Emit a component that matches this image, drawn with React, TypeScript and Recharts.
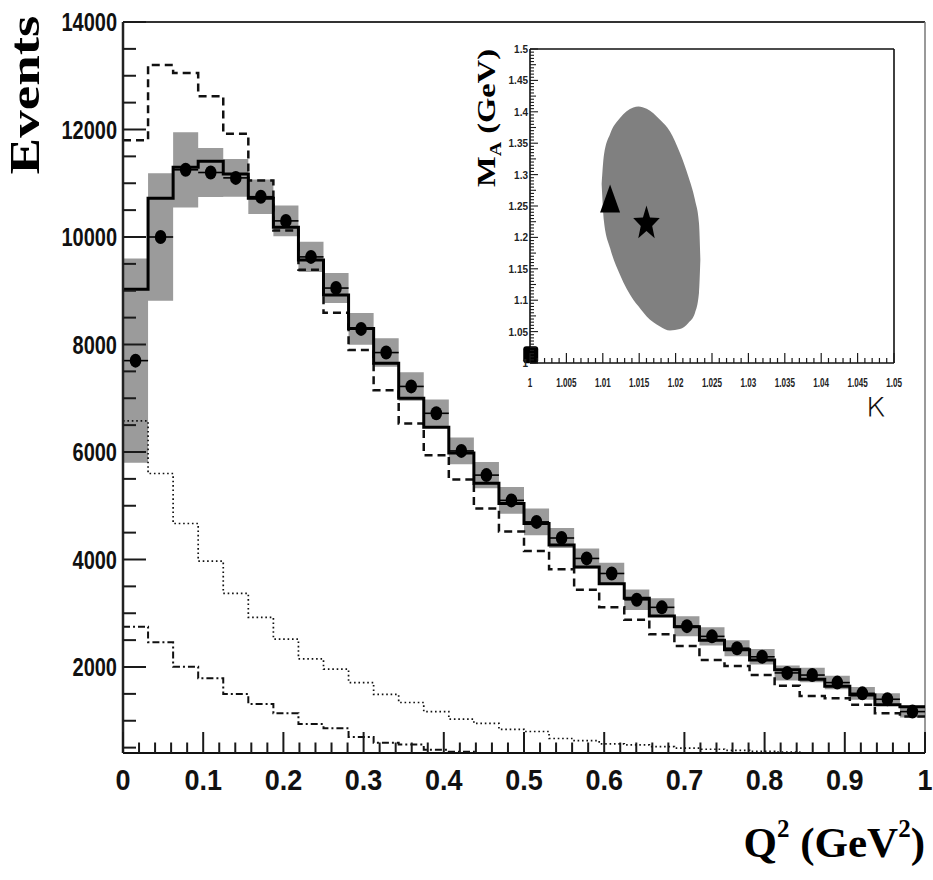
import React from 'react';
import { ComposedChart, Line, Area, Scatter, XAxis, YAxis, ErrorBar, ReferenceLine } from 'recharts';

// ---------- main histogram data (32 bins in Q^2 from 0 to 1) ----------
const NBINS = 32;
const Q2_MAX = 1;

const dataPoints = [7700, 10000, 11250, 11200, 11100, 10750, 10300, 9630, 9050, 8290, 7850, 7220, 6720, 6020, 5570, 5100, 4700, 4400, 4020, 3740, 3250, 3110, 2760, 2570, 2350, 2190, 1890, 1850, 1710, 1510, 1400, 1170];
const dataSysErr = [1900, 1185, 700, 455, 350, 320, 285, 280, 278, 295, 265, 265, 255, 250, 245, 250, 248, 186, 186, 200, 190, 170, 186, 170, 150, 145, 140, 135, 125, 120, 110, 110];
const fitMC = [9030, 10720, 11300, 11410, 11170, 10720, 10180, 9570, 8920, 8300, 7650, 7000, 6460, 5980, 5420, 5040, 4670, 4270, 3860, 3550, 3280, 2950, 2750, 2500, 2320, 2130, 1950, 1770, 1640, 1480, 1300, 1260];
const initialMC = [11800, 13200, 13050, 12620, 11920, 11050, 10120, 9390, 8590, 7900, 7150, 6530, 5940, 5490, 4950, 4520, 4160, 3820, 3435, 3110, 2880, 2610, 2390, 2130, 2020, 1850, 1650, 1460, 1420, 1300, 1140, 1080];
const bkgDotted = [6580, 5600, 4670, 3970, 3370, 2925, 2520, 2150, 1960, 1710, 1490, 1340, 1170, 1030, 950, 840, 800, 670, 630, 570, 550, 520, 490, 470, 450, 430, 415, 400, 390, 380, 370, 360];
const bkgDashDot = [2750, 2460, 2005, 1790, 1500, 1310, 1140, 940, 860, 700, 590, 560, 460, 425, 395, 380, 365, 350, 340, 330, 320, 310, 300, 290, 280, 270, 260, 250, 240, 230, 220, 210];

const xMajorLabels = ['0', '0.1', '0.2', '0.3', '0.4', '0.5', '0.6', '0.7', '0.8', '0.9', '1'];
const yMajorLabels = ['2000', '4000', '6000', '8000', '10000', '12000', '14000'];

// ---------- inset data ----------
const ellipseK = [1.00984, 1.01016, 1.011, 1.01236, 1.01419, 1.0149, 1.01603, 1.01786, 1.01923, 1.0206, 1.02175, 1.02266, 1.02321, 1.0234];
const ellipseLow = [1.285, 1.2255, 1.1831, 1.1406, 1.1008, 1.0902, 1.0742, 1.0583, 1.0519, 1.0541, 1.0637, 1.0796, 1.1115, 1.1645];
const ellipseHigh = [1.285, 1.3317, 1.3646, 1.3901, 1.407, 1.4086, 1.4049, 1.3874, 1.3688, 1.3344, 1.2971, 1.26, 1.2229, 1.1645];
const trianglePoint = [{ k: 1.011, m: 1.262 }];
const starPoint = [{ k: 1.016, m: 1.222 }];
const squarePoint = [{ k: 1.0001, m: 1.013 }];
const kLabels = ['1', '1.005', '1.01', '1.015', '1.02', '1.025', '1.03', '1.035', '1.04', '1.045', '1.05'];
const mLabels = ['1', '1.05', '1.1', '1.15', '1.2', '1.25', '1.3', '1.35', '1.4', '1.45', '1.5'];

// ---------- derived tables ----------
const binWidth = Q2_MAX / NBINS;
const edgeRows = Array.from({ length: NBINS + 1 }, (_, i) => {
  const j = Math.min(i, NBINS - 1);
  return {
    x: i * binWidth,
    fit: fitMC[j],
    init: initialMC[j],
    dotted: bkgDotted[j],
    dd: bkgDashDot[j],
    band: [dataPoints[j] - dataSysErr[j], dataPoints[j] + dataSysErr[j]],
  };
});
const pointRows = dataPoints.map((v, i) => ({ x: (i + 0.5) * binWidth, y: v, xerr: binWidth / 2 }));
const ellipseRows = ellipseK.map((k, i) => ({ k, band: [ellipseLow[i], ellipseHigh[i]] }));

const xTicks = Array.from({ length: 51 }, (_, i) => Number((i * 0.02).toFixed(2)));
const yTicks = Array.from({ length: 28 }, (_, i) => (i + 1) * 500);
const kTicks = Array.from({ length: 51 }, (_, i) => Number((1 + i / 1000).toFixed(3)));
const mTicks = Array.from({ length: 101 }, (_, i) => Number((1 + i / 200).toFixed(3)));

const SANS = 'Liberation Sans, Arial, Helvetica, sans-serif';
const SERIF = 'Liberation Serif, Times New Roman, serif';

// ---------- custom ticks ----------
const XTick = (props: any) => {
  const { x, y, payload } = props;
  const idx = Math.round(payload.value * 50);
  const major = idx % 5 === 0;
  return (
    <g>
      <line x1={x} y1={y} x2={x} y2={y - (major ? 21 : 10.5)} stroke="#1a1a1a" strokeWidth={2} />
      {major && (
        <text transform={`translate(${x},${y + 37}) scale(1,1.08)`} textAnchor="middle" fontFamily={SANS} fontWeight="bold" fontSize={27} fill="#111">
          {xMajorLabels[idx / 5]}
        </text>
      )}
    </g>
  );
};

const YTick = (props: any) => {
  const { x, y, payload } = props;
  const v = payload.value;
  const major = v % 2000 === 0;
  return (
    <g>
      <line x1={x} y1={y} x2={x + (major ? 23 : 13)} y2={y} stroke="#1a1a1a" strokeWidth={2} />
      {major && (
        <text transform={`translate(${x - 6},${y + 9}) scale(1,1.3)`} textAnchor="end" fontFamily={SANS} fontWeight="bold" fontSize={20} fill="#111">
          {yMajorLabels[v / 2000 - 1]}
        </text>
      )}
    </g>
  );
};

const KTick = (props: any) => {
  const { x, y, payload } = props;
  const i = Math.round((payload.value - 1) * 1000);
  const major = i % 5 === 0;
  return (
    <g>
      <line x1={x} y1={y} x2={x} y2={y - (major ? 10 : 5)} stroke="#1a1a1a" strokeWidth={1.2} />
      {major && (
        <text transform={`translate(${x},${y + 23.5}) scale(0.9,1.35)`} textAnchor="middle" fontFamily={SANS} fontWeight="bold" fontSize={9} fill="#222">
          {kLabels[i / 5]}
        </text>
      )}
    </g>
  );
};

const MTick = (props: any) => {
  const { x, y, payload } = props;
  const i = Math.round((payload.value - 1) * 200);
  const major = i % 10 === 0;
  const mid = i % 5 === 0;
  return (
    <g>
      <line x1={x} y1={y} x2={x + (major ? 8 : mid ? 6 : 4)} y2={y} stroke="#1a1a1a" strokeWidth={1.1} />
      {major && (
        <text transform={`translate(${x - 2},${y + 4}) scale(1,1.15)`} textAnchor="end" fontFamily={SANS} fontWeight="bold" fontSize={10} fill="#222">
          {mLabels[i / 10]}
        </text>
      )}
    </g>
  );
};

// ---------- marker shapes ----------
const DataDot = (props: any) => {
  const { cx, cy } = props;
  return <ellipse cx={cx} cy={cy} rx={5.8} ry={7} fill="#000" />;
};
const TriangleShape = (props: any) => {
  const { cx, cy } = props;
  return <path d={`M${cx},${cy - 14} L${cx + 10},${cy + 14} L${cx - 10},${cy + 14} Z`} fill="#000" />;
};
const StarShape = (props: any) => {
  const { cx, cy } = props;
  const pts: string[] = [];
  for (let i = 0; i < 10; i++) {
    const a = -Math.PI / 2 + (i * Math.PI) / 5;
    const rx = i % 2 === 0 ? 14 : 6;
    const ry = i % 2 === 0 ? 18 : 7.5;
    pts.push(`${cx + rx * Math.cos(a)},${cy + ry * Math.sin(a)}`);
  }
  return <polygon points={pts.join(' ')} fill="#000" />;
};
const SquareShape = (props: any) => {
  const { cx, cy } = props;
  return <rect x={cx - 7.5} y={cy - 8.5} width={15} height={17} rx={3} ry={3} fill="#000" />;
};

export default function App() {
  return (
    <div style={{ position: 'absolute', left: 0, top: 0, width: 933, height: 880, background: '#fff' }}>
      <ComposedChart width={933} height={880} data={edgeRows} margin={{ top: 22, right: 8, bottom: 87, left: 63 }}>
        <XAxis
          dataKey="x"
          type="number"
          domain={[0, 1]}
          ticks={xTicks}
          interval={0}
          tickSize={0}
          tickMargin={0}
          tickLine={false}
          tick={XTick}
          height={40}
          allowDataOverflow
          axisLine={{ stroke: '#111', strokeWidth: 2 }}
        />
        <YAxis
          type="number"
          domain={[400, 14000]}
          ticks={yTicks}
          interval={0}
          tickSize={0}
          tickMargin={0}
          tickLine={false}
          tick={YTick}
          width={60}
          allowDataOverflow
          axisLine={{ stroke: '#222', strokeWidth: 2.5 }}
        />
        <ReferenceLine y={14000} stroke="#333" strokeWidth={2.2} />
        <ReferenceLine x={1} stroke="#777" strokeWidth={1.5} />
        <Area dataKey="band" type="stepAfter" fill="#9b9b9b" fillOpacity={1} stroke="none" isAnimationActive={false} />
        <Line dataKey="dotted" type="stepAfter" stroke="#111" strokeWidth={1.7} strokeDasharray="1.6 2.8" dot={false} activeDot={false} isAnimationActive={false} />
        <Line dataKey="dd" type="stepAfter" stroke="#111" strokeWidth={2} strokeDasharray="7 3 2 3" dot={false} activeDot={false} isAnimationActive={false} />
        <Line dataKey="init" type="stepAfter" stroke="#111" strokeWidth={2.5} strokeDasharray="8 5" dot={false} activeDot={false} isAnimationActive={false} />
        <Line dataKey="fit" type="stepAfter" stroke="#000" strokeWidth={3} dot={false} activeDot={false} isAnimationActive={false} />
        <Scatter data={pointRows} dataKey="y" shape={DataDot} isAnimationActive={false}>
          <ErrorBar dataKey="xerr" direction="x" width={0} stroke="#000" strokeWidth={1.6} isAnimationActive={false} />
        </Scatter>
      </ComposedChart>

      <div style={{ position: 'absolute', left: 430, top: 20 }}>
        <ComposedChart width={500} height={420} data={ellipseRows} margin={{ top: 29, right: 36, bottom: 47, left: 60 }}>
          <XAxis
            dataKey="k"
            type="number"
            domain={[1, 1.05]}
            ticks={kTicks}
            interval={0}
            tickSize={0}
            tickMargin={0}
            tickLine={false}
            tick={KTick}
            height={30}
            axisLine={{ stroke: '#111', strokeWidth: 1.6 }}
          />
          <YAxis
            type="number"
            domain={[1, 1.5]}
            ticks={mTicks}
            interval={0}
            tickSize={0}
            tickMargin={0}
            tickLine={false}
            tick={MTick}
            width={40}
            axisLine={{ stroke: '#111', strokeWidth: 1.6 }}
          />
          <ReferenceLine y={1.5} stroke="#111" strokeWidth={1.6} />
          <ReferenceLine x={1.05} stroke="#111" strokeWidth={1.6} />
          <Area dataKey="band" type="monotone" fill="#808080" fillOpacity={1} stroke="none" isAnimationActive={false} />
          <Scatter data={trianglePoint} dataKey="m" shape={TriangleShape} isAnimationActive={false} />
          <Scatter data={starPoint} dataKey="m" shape={StarShape} isAnimationActive={false} />
          <Scatter data={squarePoint} dataKey="m" shape={SquareShape} isAnimationActive={false} />
        </ComposedChart>
      </div>

      <svg width={933} height={880} style={{ position: 'absolute', left: 0, top: 0, pointerEvents: 'none' }}>
        <text transform="translate(39,95) rotate(-90) scale(1.28,1)" textAnchor="middle" fontFamily={SERIF} fontWeight="bold" fontSize={43} fill="#000">
          Events
        </text>
        <text x={925} y={857} textAnchor="end" fontFamily={SERIF} fontWeight="bold" fontSize={43} fill="#000">
          Q<tspan fontSize={25} dy={-20}>2</tspan>
          <tspan fontSize={43} dy={20}> (GeV</tspan>
          <tspan fontSize={25} dy={-20}>2</tspan>
          <tspan fontSize={43} dy={20}>)</tspan>
        </text>
        <text transform="translate(495,118) rotate(-90) scale(1.25,1)" textAnchor="middle" fontFamily={SERIF} fontWeight="bold" fontSize={26} fill="#000">
          M<tspan fontSize={16} dy={6}>A</tspan>
          <tspan fontSize={26} dy={-6}> (GeV)</tspan>
        </text>
        <text x={876} y={417} textAnchor="middle" fontFamily="DejaVu Sans, sans-serif" fontWeight={200} fontSize={36} fill="#111">
          κ
        </text>
      </svg>
    </div>
  );
}
